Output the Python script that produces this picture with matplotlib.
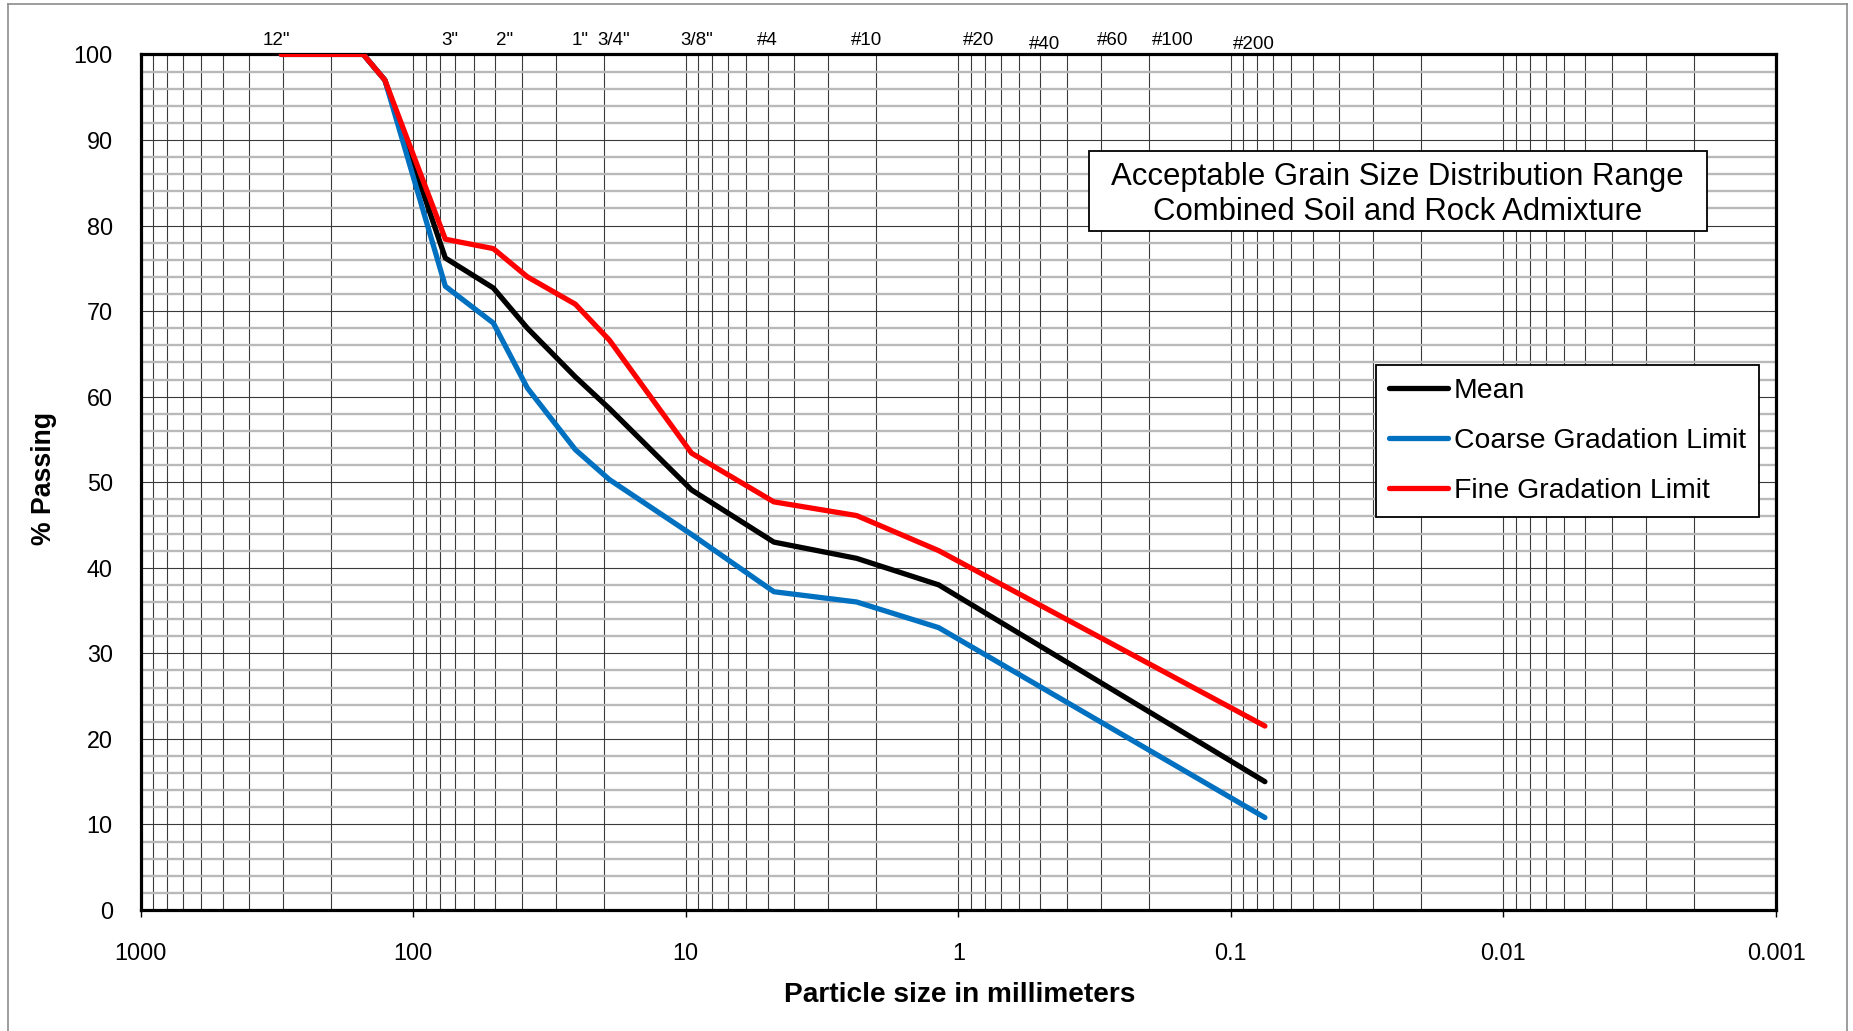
import matplotlib
matplotlib.use("Agg")
import matplotlib.pyplot as plt
import matplotlib.ticker as mticker
import matplotlib.transforms as mtransforms
from matplotlib.patches import Rectangle
from matplotlib.lines import Line2D

plt.rcParams['font.family'] = ['Liberation Sans', 'DejaVu Sans']

# ---------------- data ----------------
sizes_mm = [304.8, 152.4, 127.0, 76.2, 50.8, 38.1, 25.4, 19.05, 9.525, 4.75, 2.36, 1.18, 0.075]
mean_pass = [100, 100, 97, 76.2, 72.7, 68.0, 62.3, 58.6, 49.1, 43.0, 41.1, 38.0, 15.0]
coarse_pass = [100, 100, 97, 72.9, 68.6, 61.0, 53.8, 50.3, 43.9, 37.2, 36.0, 33.0, 10.8]
fine_pass = [100, 100, 97, 78.4, 77.3, 74.0, 70.8, 66.6, 53.4, 47.7, 46.1, 42.0, 21.5]

series_names = ["Mean", "Coarse Gradation Limit", "Fine Gradation Limit"]
series_colors = ["#000000", "#0070C0", "#FF0000"]

x_ticks = [1000, 100, 10, 1, 0.1, 0.01, 0.001]
x_tick_labels = ["1000", "100", "10", "1", "0.1", "0.01", "0.001"]
y_ticks = list(range(0, 101, 10))

sieve_labels = ['12"', '3"', '2"', '1"', '3/4"', '3/8"', '#4', '#10', '#20', '#40', '#60', '#100', '#200']
# where each sieve label sits along the top (mm)
sieve_label_pos = [318, 73.5, 46.2, 24.4, 18.4, 9.1, 5.02, 2.17, 0.84, 0.483, 0.271, 0.163, 0.0824]
sieve_label_low = [False, False, False, False, False, False, False, False, False, True, False, False, True]

title_lines = ["Acceptable Grain Size Distribution Range", "Combined Soil and Rock Admixture"]

# ---------------- figure ----------------
W, H = 1853, 1031
fig = plt.figure(figsize=(W / 100, H / 100), dpi=100)
fig.patch.set_facecolor("white")

def fx(px):
    return px / W

def fy(py):
    return 1 - py / H

L, R, T, B = 140.6, 1776.0, 54.4, 910.0
ax = fig.add_axes([fx(L), fy(B), (R - L) / W, (B - T) / H])

ax.set_xscale("log")
ax.set_xlim(1000, 0.001)
ax.set_ylim(0, 100)

ax.set_xticks(x_ticks)
ax.set_xticklabels(x_tick_labels)
ax.xaxis.set_minor_locator(mticker.LogLocator(base=10, subs=[2, 3, 4, 5, 6, 7, 8, 9], numticks=20))
ax.xaxis.set_minor_formatter(mticker.NullFormatter())
ax.set_yticks(y_ticks)
ax.yaxis.set_minor_locator(mticker.MultipleLocator(2))

ax.set_axisbelow(True)
ax.grid(which="minor", axis="y", color="#b9b9b9", lw=1.7)
ax.grid(which="major", axis="y", color="#3a3a3a", lw=0.8)
ax.grid(which="both", axis="x", color="#3a3a3a", lw=0.8)

ax.tick_params(axis="x", which="major", direction="out", length=5, width=1, labelsize=16.8, pad=18.3, colors="black")
ax.tick_params(axis="x", which="minor", length=0)
ax.tick_params(axis="y", which="both", length=0, labelsize=16.8, pad=20)

for s in ax.spines.values():
    s.set_linewidth(2.3)
    s.set_color("black")

for vals, name, col in zip([mean_pass, coarse_pass, fine_pass], series_names, series_colors):
    ax.plot(sizes_mm, vals, color=col, lw=3.8, label=name,
            solid_joinstyle="round", solid_capstyle="round", zorder=3)

# top sieve labels
trans = mtransforms.blended_transform_factory(ax.transData, ax.transAxes)
for lab, pos, low in zip(sieve_labels, sieve_label_pos, sieve_label_low):
    yb = 1.006 if low else 1.011
    ax.text(pos, yb, lab, transform=trans, ha="center", va="baseline", fontsize=13.5, clip_on=False)

# axis titles
fig.text(fx(960), fy(995), "Particle size in millimeters", ha="center", va="center",
         fontsize=20.2, fontweight="bold")
fig.text(fx(44), fy(478), "% Passing", ha="center", va="center", rotation=90,
         fontsize=19.2, fontweight="bold")

# title box
fig.patches.append(Rectangle((fx(1089), fy(230.5)), (1706.5 - 1089) / W, (230.5 - 151) / H,
                             transform=fig.transFigure, facecolor="white", edgecolor="black",
                             lw=1.3, zorder=5))
fig.text(fx(1397.5), fy(184.5), title_lines[0], ha="center", va="baseline", fontsize=22.4, zorder=6)
fig.text(fx(1397.5), fy(219.5), title_lines[1], ha="center", va="baseline", fontsize=22.4, zorder=6)

# legend
leg = ax.legend(loc="upper left", bbox_to_anchor=(fx(1376), fy(365)), bbox_transform=fig.transFigure,
                fontsize=20.4, frameon=True, fancybox=False, framealpha=1, edgecolor="black",
                borderpad=0.45, labelspacing=0.85, handlelength=2.1, handletextpad=0.2,
                borderaxespad=0)
leg.get_frame().set_linewidth(1.3)
for h in leg.get_lines():
    h.set_linewidth(3.8)

# outer chart border
for xs, ys in [((fx(8), fx(8)), (fy(4), 0)), ((fx(8), fx(1847)), (fy(4), fy(4))),
               ((fx(1847), fx(1847)), (fy(4), 0))]:
    fig.add_artist(Line2D(xs, ys, transform=fig.transFigure, color="#8c8c8c", lw=1.2))

fig.savefig("out.png", dpi=100)
